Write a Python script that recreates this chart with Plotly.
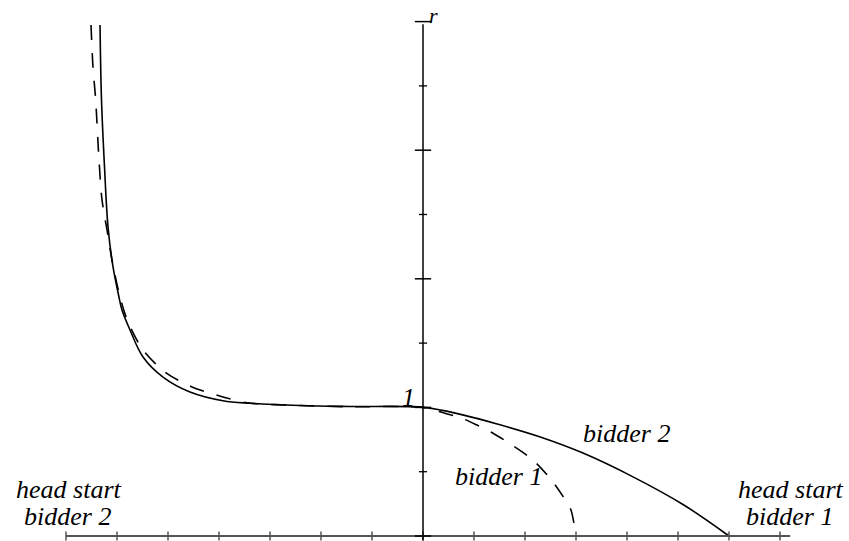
import plotly.graph_objects as go

# ---- data (x: head-start axis units, y: r) ----
bidder2_x = [-6.333, -6.304, -6.245, -6.176, -6.078, -5.961, -5.902, -5.745, -5.490,
             -5.098, -4.569, -3.922, -3.392, -2.412, -1.431, 0.0,
             0.759, 1.51, 2.3, 3.137, 4.118, 5.098, 6.0]
bidder2_y = [3.974, 3.390, 2.869, 2.403, 2.092, 1.858, 1.757, 1.602, 1.392,
             1.236, 1.120, 1.052, 1.032, 1.015, 1.007, 1.0,
             0.944, 0.865, 0.77, 0.645, 0.46, 0.245, 0.0]

bidder1_x = [-6.510, -6.471, -6.418, -6.353, -6.294, -6.196, -6.098, -5.941, -5.784,
             -5.490, -5.059, -4.529, -3.922, -3.451, -2.412, -1.431, 0.0,
             0.458, 0.752, 1.046, 1.34, 1.608, 2.131, 2.49, 2.739, 2.896, 2.96, 3.0]
bidder1_y = [3.974, 3.647, 3.390, 2.924, 2.613, 2.380, 2.146, 1.858, 1.664,
             1.446, 1.275, 1.159, 1.081, 1.036, 1.015, 1.005, 1.0,
             0.951, 0.917, 0.865, 0.807, 0.742, 0.599, 0.45, 0.312, 0.208, 0.10, 0.0]

x_ticks = list(range(-7, 8))
y_major = [0, 1, 2, 3, 4]
y_minor = [0.5, 1.5, 2.5, 3.5]
x_axis_end = 7.2
y_axis_top = 3.98

fig = go.Figure()
fig.add_trace(go.Scatter(x=bidder2_x, y=bidder2_y, mode="lines",
                         line=dict(color="black", width=1.6, shape="spline", smoothing=1.0),
                         name="bidder 2", hoverinfo="skip"))
fig.add_trace(go.Scatter(x=bidder1_x, y=bidder1_y, mode="lines",
                         line=dict(color="black", width=1.6, dash="15px,13px",
                                   shape="spline", smoothing=0.8),
                         name="bidder 1", hoverinfo="skip"))

shapes = []
axis_gray = "#555555"
# horizontal axis
shapes.append(dict(type="line", xref="x", yref="y", x0=-7, x1=x_axis_end, y0=0, y1=0,
                   line=dict(color=axis_gray, width=2.2)))
for t in x_ticks:
    shapes.append(dict(type="line", xref="x", yref="y", x0=t, x1=t, y0=-0.035, y1=0.035,
                       line=dict(color=axis_gray, width=1.5)))
# vertical axis
shapes.append(dict(type="line", xref="x", yref="y", x0=0, x1=0, y0=-0.035, y1=y_axis_top,
                   line=dict(color="black", width=1.5)))
for t in y_major:
    shapes.append(dict(type="line", xref="x", yref="y", x0=-0.16, x1=0.16, y0=t, y1=t,
                       line=dict(color="black", width=1.5)))
for t in y_minor:
    shapes.append(dict(type="line", xref="x", yref="y", x0=-0.08, x1=0.08, y0=t, y1=t,
                       line=dict(color="black", width=1.3)))

font = dict(family="Liberation Serif", size=26, color="black")
ann = []
def label(text, x, y, size=26):
    ann.append(dict(text="<i>" + text + "</i>", x=x, y=y, xref="x", yref="y",
                    showarrow=False, font=dict(font, size=size),
                    xanchor="center", yanchor="middle"))

label("head start", -6.94, 0.362)
label("bidder 2", -6.98, 0.152)
label("head start", 7.216, 0.362)
label("bidder 1", 7.18, 0.152)
label("bidder 2", 3.994, 0.80)
label("bidder 1", 1.49, 0.463)
label("1", -0.275, 1.077)
label("r", 0.2, 4.05, size=22)

fig.update_layout(
    width=849, height=541,
    margin=dict(l=0, r=0, t=0, b=0),
    paper_bgcolor="white", plot_bgcolor="white",
    showlegend=False,
    xaxis=dict(range=[-423 / 51, 426 / 51], visible=False, fixedrange=True),
    yaxis=dict(range=[-5 / 128.6, 536 / 128.6], visible=False, fixedrange=True),
    shapes=shapes, annotations=ann,
)

fig.write_html("out.html", config={"displayModeBar": False})

with open("out.html", "r", encoding="utf-8") as f:
    html = f.read()
html = html.replace("<body>", '<body style="margin:0;padding:0;overflow:hidden">', 1)
with open("out.html", "w", encoding="utf-8") as f:
    f.write(html)
